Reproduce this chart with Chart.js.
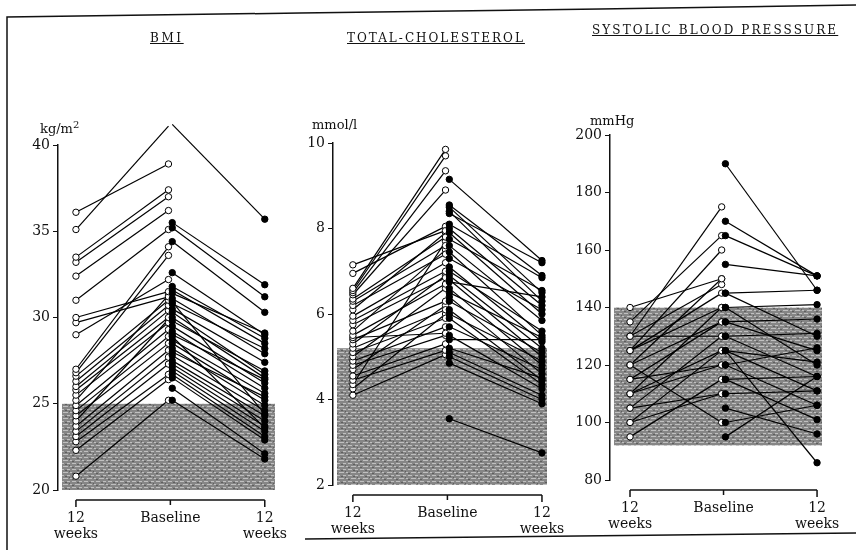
<!DOCTYPE html>
<html>
<head>
<meta charset="utf-8">
<script src="https://cdn.jsdelivr.net/npm/chart.js@4.4.1/dist/chart.umd.min.js"></script>
<style>
  html, body { margin: 0; padding: 0; background: #fff; }
  #wrap { position: relative; width: 856px; height: 550px; overflow: hidden; background: #fff; }
  canvas, svg { position: absolute; left: 0; top: 0; }
  .title { position: absolute; font-family: 'DejaVu Serif', serif; font-size: 12px; letter-spacing: 2px;
           text-decoration: underline; color: #111; white-space: nowrap; }
  .unit { position: absolute; font-family: 'DejaVu Serif', serif; font-size: 13px; color: #111; white-space: nowrap; }
  .unit sup { font-size: 10px; }
</style>
</head>
<body>
<div id="wrap">
  <svg width="856" height="550">
    <polyline points="7,550 7,17 300,13 600,9 856,5" fill="none" stroke="#111" stroke-width="1.5"/>
    <line x1="305" y1="539" x2="856" y2="533" stroke="#111" stroke-width="1.5"/>
  </svg>
  <canvas id="bmiChart" width="856" height="550"></canvas>
  <canvas id="cholChart" width="856" height="550"></canvas>
  <canvas id="sbpChart" width="856" height="550"></canvas>
  <div class="title" style="left:150px;top:31px;letter-spacing:2.6px">BMI</div>
  <div class="title" style="left:347px;top:31px">TOTAL-CHOLESTEROL</div>
  <div class="title" style="left:592px;top:23px;letter-spacing:2.1px">SYSTOLIC BLOOD PRESSSURE</div>
  <div class="unit" style="left:40px;top:119px">kg/m<sup>2</sup></div>
  <div class="unit" style="left:312px;top:117px">mmol/l</div>
  <div class="unit" style="left:590px;top:113px">mmHg</div>
</div>
<script>
// x categories
var xLabels = [['12', 'weeks'], 'Baseline', ['12', 'weeks']];
var openX = [0, 0.98];     // 12 weeks (left) -> baseline, open circles
var filledX = [1.02, 2];   // baseline -> 12 weeks (right), filled circles

// BMI (kg/m2)
var bmiTicks = [20, 25, 30, 35, 40];
var bmiOpenWeek12 = [36.1, 35.1, 33.5, 33.2, 32.4, 31.0, 30.0, 29.7, 29.0, 27.0, 26.8, 26.6, 26.3, 26.0,
                     25.8, 25.5, 25.2, 24.9, 24.6, 24.3, 24.0, 23.7, 23.4, 23.1, 22.8, 22.3, 20.8];
var bmiOpenBaseline = [38.9, 41.1, 37.4, 37.0, 36.2, 35.1, 31.5, 31.2, 32.2, 34.1, 33.6, 31.0, 30.7, 30.4,
                       30.0, 29.7, 31.3, 29.3, 28.9, 28.5, 29.9, 28.1, 27.7, 27.3, 26.7, 26.4, 25.2];
var bmiFilledBaseline = [41.2, 35.5, 35.2, 34.4, 32.6, 31.8, 31.6, 31.4, 31.1, 30.8, 30.5, 30.3, 30.0, 29.8,
                         29.5, 29.2, 29.0, 28.7, 28.5, 28.2, 28.0, 27.8, 27.5, 27.3, 27.1, 26.9, 26.7, 26.5,
                         25.9, 25.2, 28.9, 30.9];
var bmiFilledWeek12 = [35.7, 31.9, 31.2, 30.3, 29.0, 28.8, 28.5, 29.1, 27.9, 28.2, 27.4, 26.7, 26.5, 26.9,
                       26.2, 25.9, 26.4, 25.6, 25.2, 24.9, 25.4, 24.6, 24.3, 24.0, 23.7, 23.4, 23.1, 22.9,
                       22.1, 21.8, 23.6, 24.4];
var bmiNormal = [20, 25];

// Total cholesterol (mmol/l)
var cholTicks = [2, 4, 6, 8, 10];
var cholOpenWeek12 = [7.15, 6.95, 6.6, 6.55, 6.5, 6.45, 6.35, 6.3, 6.2, 6.1, 5.95, 5.85, 5.75, 5.6, 5.5,
                      5.45, 5.4, 5.3, 5.2, 5.1, 5.0, 4.9, 4.8, 4.7, 4.55, 4.45, 4.35, 4.25, 4.1];
var cholOpenBaseline = [7.95, 8.05, 9.85, 9.7, 9.35, 8.9, 7.8, 7.6, 7.4, 7.9, 7.2, 7.0, 6.85, 7.5, 6.7,
                        5.55, 6.3, 6.9, 6.1, 5.9, 6.6, 5.7, 5.5, 6.2, 5.3, 5.15, 7.7, 6.0, 5.05];
var cholFilledBaseline = [9.15, 8.55, 8.5, 8.4, 8.35, 8.1, 8.0, 7.9, 7.75, 7.6, 7.45, 7.3, 7.1, 7.0, 6.9,
                          6.8, 6.75, 6.6, 6.5, 6.4, 6.3, 6.1, 6.0, 5.9, 5.7, 5.5, 5.4, 5.2, 5.1, 5.0,
                          4.85, 3.55];
var cholFilledWeek12 = [7.25, 6.9, 6.5, 6.3, 7.2, 6.85, 6.2, 6.0, 6.55, 5.85, 5.5, 6.1, 5.35, 5.6, 5.2,
                        5.0, 6.4, 4.8, 5.45, 4.6, 5.1, 4.45, 4.9, 4.35, 4.7, 4.25, 5.4, 4.5, 4.1, 4.0,
                        3.9, 2.75];
var cholNormal = [2, 5.2];

// Systolic blood pressure (mmHg)
var sbpTicks = [80, 100, 120, 140, 160, 180, 200];
var sbpOpenWeek12 = [140, 135, 130, 130, 125, 125, 120, 120, 115, 115, 110, 110, 110, 105, 105, 100, 100,
                     95, 130, 120, 125];
var sbpOpenBaseline = [150, 165, 175, 148, 160, 140, 150, 135, 135, 120, 140, 125, 120, 130, 110, 125, 110,
                       115, 130, 100, 145];
var sbpFilledBaseline = [190, 170, 165, 155, 145, 145, 140, 140, 135, 135, 130, 130, 125, 125, 120, 120,
                         115, 115, 110, 105, 100, 95, 125];
var sbpFilledWeek12 = [146, 151, 151, 151, 146, 130, 141, 120, 136, 125, 131, 116, 121, 111, 126, 106,
                       116, 101, 111, 96, 106, 116, 86];
var sbpNormal = [92, 140];

var serif = "'DejaVu Serif', 'Liberation Serif', serif";
var ink = '#111';

function makeShade() {
    var c = document.createElement('canvas');
    c.width = 12; c.height = 6;
    var g = c.getContext('2d');
    g.fillStyle = '#868686'; g.fillRect(0, 0, 12, 6);
    g.fillStyle = '#c0c0c0';
    g.fillRect(0, 1, 4, 1); g.fillRect(7, 1, 3, 1); g.fillRect(3, 4, 5, 1); g.fillRect(10, 4, 2, 1);
    g.fillStyle = '#5e5e5e';
    g.fillRect(5, 2, 2, 1); g.fillRect(0, 5, 2, 1); g.fillRect(9, 3, 1, 1);
    return g.createPattern(c, 'repeat');
}
var shade = makeShade();

// grey band for the normal range
var normalBand = {
    id: 'normalBand',
    beforeDatasetsDraw: function (chart, args, opts) {
        var ctx = chart.ctx, area = chart.chartArea, y = chart.scales.y;
        var top = y.getPixelForValue(opts.range[1]);
        var bottom = y.getPixelForValue(opts.range[0]);
        ctx.save();
        ctx.fillStyle = shade;
        ctx.fillRect(area.left + 4, top, area.right - area.left - 7, bottom - top);
        ctx.restore();
    }
};

// detached bracket under the plot, ticks at the three time points
var bracket = {
    id: 'bracket',
    afterDraw: function (chart) {
        var ctx = chart.ctx, x = chart.scales.x;
        var yb = chart.chartArea.bottom + 10;
        ctx.save();
        ctx.strokeStyle = ink;
        ctx.lineWidth = 1.5;
        ctx.beginPath();
        ctx.moveTo(x.getPixelForValue(0), yb);
        ctx.lineTo(x.getPixelForValue(2), yb);
        [0, 1, 2].forEach(function (v) {
            var px = x.getPixelForValue(v);
            ctx.moveTo(px, yb);
            ctx.lineTo(px, yb + (v === 1 ? 5 : 7));
        });
        ctx.stroke();
        ctx.restore();
    }
};

function pairSets(a, b, xs, open) {
    return a.map(function (v, i) {
        return {
            data: [{ x: xs[0], y: v }, { x: xs[1], y: b[i] }],
            borderColor: '#000',
            borderWidth: 1.2,
            pointRadius: 3.2,
            pointBorderWidth: 1,
            pointBorderColor: '#000',
            pointBackgroundColor: open ? '#fff' : '#000',
            clip: false
        };
    });
}

function makePanel(id, p) {
    var ctx = document.getElementById(id).getContext('2d');
    return new Chart(ctx, {
        type: 'line',
        data: {
            datasets: pairSets(p.fb, p.fw, filledX, false).concat(pairSets(p.ow, p.ob, openX, true))
        },
        options: {
            responsive: false,
            animation: false,
            events: [],
            layout: {
                padding: { left: p.area[0] - 50, top: p.area[1], right: 856 - p.area[2], bottom: 550 - p.area[3] - 50 }
            },
            plugins: {
                legend: { display: false },
                tooltip: { enabled: false },
                normalBand: { range: p.normal }
            },
            scales: {
                x: {
                    type: 'linear',
                    min: p.xRange[0],
                    max: p.xRange[1],
                    afterBuildTicks: function (scale) {
                        scale.ticks = [0, 1, 2].map(function (v) { return { value: v }; });
                    },
                    afterFit: function (scale) { scale.height = 50; },
                    border: { display: false },
                    grid: { display: false },
                    ticks: {
                        autoSkip: false,
                        maxRotation: 0,
                        padding: 12,
                        color: ink,
                        font: { family: serif, size: 14, lineHeight: 1.15 },
                        callback: function (v) { return xLabels[v]; }
                    }
                },
                y: {
                    min: p.ticks[0],
                    max: p.ticks[p.ticks.length - 1],
                    afterBuildTicks: function (scale) {
                        scale.ticks = p.ticks.map(function (v) { return { value: v }; });
                    },
                    afterFit: function (scale) { scale.width = 50; },
                    border: { display: true, color: ink, width: 1.5 },
                    grid: { drawOnChartArea: false, drawTicks: true, tickLength: 5, color: ink },
                    ticks: {
                        padding: 3,
                        color: ink,
                        font: { family: serif, size: 14 }
                    }
                }
            }
        },
        plugins: [normalBand, bracket]
    });
}

document.addEventListener('DOMContentLoaded', function () {
    makePanel('bmiChart', {
        area: [58, 145, 278, 490], xRange: [-0.19, 2.14], ticks: bmiTicks, normal: bmiNormal,
        ow: bmiOpenWeek12, ob: bmiOpenBaseline, fb: bmiFilledBaseline, fw: bmiFilledWeek12
    });
    makePanel('cholChart', {
        area: [333, 143, 550, 485], xRange: [-0.21, 2.085], ticks: cholTicks, normal: cholNormal,
        ow: cholOpenWeek12, ob: cholOpenBaseline, fb: cholFilledBaseline, fw: cholFilledWeek12
    });
    makePanel('sbpChart', {
        area: [610, 135, 825, 480], xRange: [-0.214, 2.085], ticks: sbpTicks, normal: sbpNormal,
        ow: sbpOpenWeek12, ob: sbpOpenBaseline, fb: sbpFilledBaseline, fw: sbpFilledWeek12
    });
});
</script>
</body>
</html>
